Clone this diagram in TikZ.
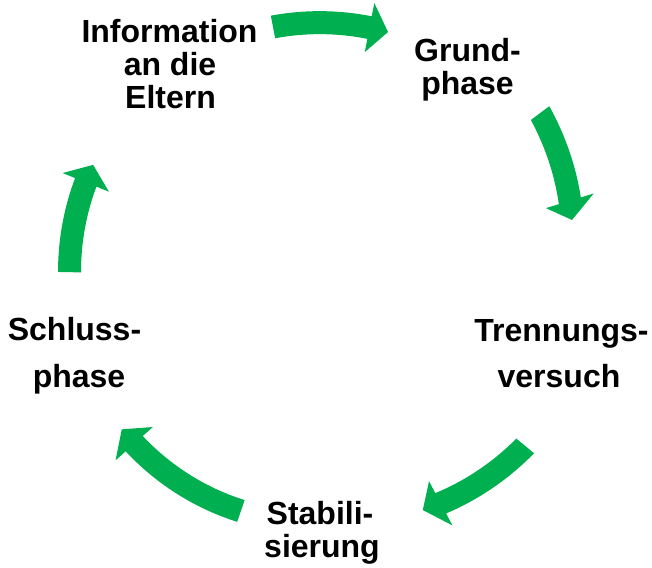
\documentclass[tikz,border=0pt]{standalone}
\usepackage{fontspec}
\setmainfont{Liberation Sans}
\definecolor{arrowgreen}{HTML}{00B050}
\newcommand\cycarrow[4]{%
  \pgfmathsetmacro\cyTa{#1}\pgfmathsetmacro\cyTr{#2}%
  \pgfmathsetmacro\cyPa{#3}\pgfmathsetmacro\cyPr{#4}%
  \pgfmathsetmacro\cyBa{\cyPa+19/\cyPr*180/pi}%
  \pgfmathsetmacro\cyBr{\cyTr+(\cyPr-\cyTr)*(\cyBa-\cyTa)/(\cyPa-\cyTa)}%
  \fill[cyclearrow]
    plot[domain=\cyTa:\cyBa,samples=40,variable=\t]
      ({321+(\cyTr+(\cyPr-\cyTr)*(\t-\cyTa)/(\cyPa-\cyTa)+11.5)*cos(\t)},
       {277-(\cyTr+(\cyPr-\cyTr)*(\t-\cyTa)/(\cyPa-\cyTa)+11.5)*sin(\t)})
    -- ({321+(\cyBr+25)*cos(\cyBa)},{277-(\cyBr+25)*sin(\cyBa)})
    -- ({321+\cyPr*cos(\cyPa)},{277-\cyPr*sin(\cyPa)})
    -- ({321+(\cyBr-25)*cos(\cyBa)},{277-(\cyBr-25)*sin(\cyBa)})
    -- plot[domain=\cyBa:\cyTa,samples=40,variable=\t]
      ({321+(\cyTr+(\cyPr-\cyTr)*(\t-\cyTa)/(\cyPa-\cyTa)-11.5)*cos(\t)},
       {277-(\cyTr+(\cyPr-\cyTr)*(\t-\cyTa)/(\cyPa-\cyTa)-11.5)*sin(\t)})
    -- cycle;
}
\begin{document}
\begin{tikzpicture}[x=1pt,y=-1pt,
  cyclearrow/.style={fill=arrowgreen},
  lbl/.style={anchor=base,inner sep=0pt,font=\fontsize{32}{38}\selectfont\bfseries,text=black}]
\useasboundingbox (0,0) rectangle (652,567);
% arrows
\cycarrow{100.87}{254.6}{74.7}{254.0}
\cycarrow{36.8}{273.6}{12.8}{257.4}
\cycarrow{-39.6}{265.0}{-66.4}{254.3}
\cycarrow{-108.9}{247.3}{-142.6}{250.8}
\cycarrow{178.9}{251.5}{153.8}{254.0}
% labels
\node[lbl] (info1) at (169.5,43) {Information};
\node[lbl] (info2) at (170,76) {an die};
\node[lbl] (info3) at (170.5,108) {Eltern};
\node[lbl] (grund1) at (467.5,62) {Grund-};
\node[lbl] (grund2) at (467.5,95) {phase};
\node[lbl] (trenn1) at (561.5,341) {Trennungs-};
\node[lbl] (trenn2) at (559,387) {versuch};
\node[lbl] (stab1) at (320,524) {Stabili-};
\node[lbl] (stab2) at (322,557) {sierung};
\node[lbl] (schl1) at (74.5,340) {Schluss-};
\node[lbl] (schl2) at (79,387) {phase};
\end{tikzpicture}
\end{document}
